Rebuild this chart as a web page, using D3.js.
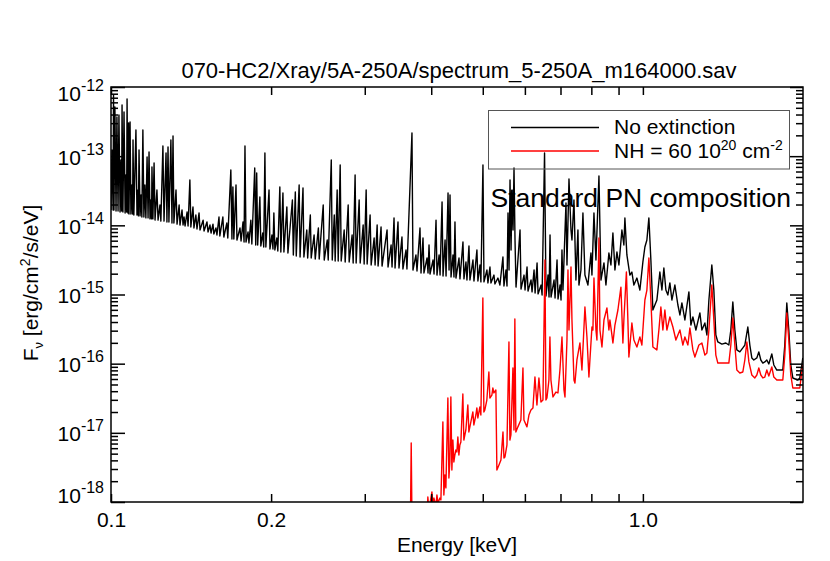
<!DOCTYPE html>
<html lang="en">
<head>
  <meta charset="UTF-8">
  <title>spectrum_5-250A_m164000</title>
  <style>
    html, body { margin: 0; padding: 0; background: #fff; }
    svg { display: block; font-family: "Liberation Sans", Arial, Helvetica, sans-serif; }
    .axis path.domain { display: none; }
    .axis line { stroke: #000; stroke-width: 1.5; }
    .axis text { font-size: 21px; fill: #000; font-family: "Liberation Sans", Arial, sans-serif; }
  </style>
  <script src="https://cdn.jsdelivr.net/npm/d3@7"></script>
</head>
<body>
<script>
  // ---------- data: [energy keV, F_nu erg/cm2/s/eV] ----------
  const noExtinction = [
    [0.1000,1.67e-14],[0.1004,1.23e-13],[0.1009,1.67e-14],[0.1011,7.66e-13],[0.1013,1.67e-14],[0.1017,5.14e-13],[0.1022,1.61e-14],[0.1026,3.68e-13],[0.1031,1.61e-14],[0.1035,3.94e-13],
    [0.1040,1.56e-14],[0.1044,8.81e-14],[0.1047,1.61e-14],[0.1049,5.49e-13],[0.1053,1.56e-14],[0.1058,4.35e-13],[0.1063,1.51e-14],[0.1067,5.34e-14],[0.1070,1.56e-14],[0.1072,6.71e-13],
    [0.1076,1.51e-14],[0.1079,3.02e-13],[0.1081,1.46e-14],[0.1086,3.12e-13],[0.1090,1.46e-14],[0.1095,3.83e-14],[0.1098,1.46e-14],[0.1100,1.71e-13],[0.1104,1.41e-14],[0.1114,2.39e-13],
    [0.1119,1.41e-14],[0.1124,3.24e-14],[0.1126,1.37e-14],[0.1129,1.23e-13],[0.1134,1.37e-14],[0.1139,2.75e-14],[0.1143,1.32e-14],[0.1148,2.39e-13],[0.1153,1.32e-14],[0.1158,3.83e-14],
    [0.1163,1.28e-14],[0.1169,9.73e-14],[0.1174,1.28e-14],[0.1179,1.15e-13],[0.1184,1.24e-14],[0.1189,2.32e-14],[0.1192,1.24e-14],[0.1194,6.97e-14],[0.1199,1.24e-14],[0.1205,7.96e-14],
    [0.1210,1.19e-14],[0.1220,3.24e-14],[0.1226,1.19e-14],[0.1236,1.97e-14],[0.1241,1.15e-14],[0.1252,1.40e-13],[0.1258,1.15e-14],[0.1269,1.11e-13],[0.1274,1.12e-14],[0.1280,1.36e-13],
    [0.1285,1.12e-14],[0.1296,1.71e-13],[0.1302,1.08e-14],[0.1308,1.96e-13],[0.1313,1.08e-14],[0.1325,3.24e-14],[0.1331,1.04e-14],[0.1343,1.97e-14],[0.1348,1.01e-14],[0.1360,1.67e-14],
    [0.1366,1.01e-14],[0.1372,1.32e-14],[0.1378,9.78e-15],[0.1390,1.56e-14],[0.1396,9.78e-15],[0.1407,4.52e-14],[0.1413,9.46e-15],[0.1426,1.84e-14],[0.1432,9.16e-15],[0.1444,1.41e-14],
    [0.1451,8.86e-15],[0.1464,1.51e-14],[0.1470,8.57e-15],[0.1490,1.19e-14],[0.1496,8.28e-15],[0.1515,1.12e-14],[0.1522,8.01e-15],[0.1535,1.01e-14],[0.1542,7.75e-15],[0.1555,1.04e-14],
    [0.1561,7.50e-15],[0.1575,9.16e-15],[0.1582,7.25e-15],[0.1596,1.32e-14],[0.1602,7.02e-15],[0.1623,1.32e-14],[0.1630,6.78e-15],[0.1651,1.08e-14],[0.1658,6.56e-15],[0.1680,6.31e-14],
    [0.1688,6.35e-15],[0.1695,3.58e-14],[0.1702,6.35e-15],[0.1718,3.83e-14],[0.1725,6.14e-15],[0.1748,9.16e-15],[0.1756,5.94e-15],[0.1771,1.12e-14],[0.1779,5.74e-15],[0.1786,1.40e-13],
    [0.1794,5.74e-15],[0.1810,8.01e-15],[0.1817,5.55e-15],[0.1832,1.19e-14],[0.1840,5.37e-15],[0.1863,6.75e-14],[0.1871,5.20e-15],[0.1879,5.71e-14],[0.1887,5.20e-15],[0.1905,2.57e-14],
    [0.1913,5.03e-15],[0.1929,7.75e-15],[0.1937,4.86e-15],[0.1947,1.11e-13],[0.1955,4.86e-15],[0.1982,3.24e-14],[0.1990,4.55e-15],[0.2007,7.25e-15],[0.2016,4.55e-15],[0.2024,1.51e-14],
    [0.2033,4.40e-15],[0.2050,6.56e-15],[0.2059,4.26e-15],[0.2077,3.58e-14],[0.2086,4.12e-15],[0.2105,2.94e-14],[0.2114,4.12e-15],[0.2141,1.84e-14],[0.2151,3.98e-15],[0.2193,2.32e-14],
    [0.2202,3.73e-15],[0.2221,3.04e-14],[0.2230,3.60e-15],[0.2258,3.83e-14],[0.2267,3.49e-15],
    [0.2296,3.47e-14],[0.2305,3.49e-15],[0.2334,8.57e-15],[0.2343,3.37e-15],[0.2370,1.41e-14],[0.2379,3.37e-15],[0.2409,7.25e-15],[0.2421,3.26e-15],[0.2454,9.16e-15],[0.2463,3.26e-15],
    [0.2506,1.97e-14],[0.2517,3.15e-15],[0.2550,6.14e-15],[0.2561,3.15e-15],[0.2595,8.81e-14],[0.2606,3.15e-15],[0.2629,1.41e-14],[0.2639,3.05e-15],[0.2662,3.24e-14],[0.2674,3.05e-15],
    [0.2697,7.45e-14],[0.2709,3.05e-15],[0.2744,8.57e-15],[0.2756,2.95e-15],[0.2792,1.97e-14],[0.2804,2.95e-15],[0.2840,7.25e-15],[0.2853,2.86e-15],[0.2877,5.34e-14],[0.2890,2.86e-15],
    [0.2928,2.32e-14],[0.2941,2.86e-15],[0.2979,1.01e-14],[0.2992,2.76e-15],[0.3018,3.24e-14],[0.3031,2.76e-15],[0.3070,1.41e-14],[0.3084,2.67e-15],[0.3124,6.56e-15],[0.3137,2.67e-15],
    [0.3165,1.01e-14],[0.3178,2.58e-15],[0.3219,9.46e-15],[0.3233,2.58e-15],[0.3304,8.57e-15],[0.3318,2.50e-15],[0.3362,5.20e-15],[0.3376,2.50e-15],[0.3405,1.28e-14],[0.3420,2.42e-15],
    [0.3464,1.12e-14],[0.3479,2.42e-15],[0.3524,6.78e-15],[0.3539,2.34e-15],[0.3586,4.40e-15],[0.3601,2.34e-15],[0.3680,2.16e-13],[0.3696,2.26e-15],[0.3744,3.73e-15],[0.3761,2.19e-15],
    [0.3810,9.16e-15],[0.3827,2.05e-15],[0.3860,6.56e-15],[0.3876,2.05e-15],[0.3928,3.37e-15],[0.3945,2.05e-15],[0.3962,5.20e-15],[0.3979,1.98e-15],[0.4031,3.15e-15],[0.4049,1.98e-15],
    [0.4084,1.19e-14],[0.4101,1.91e-15],[0.4138,3.73e-15],[0.4156,1.91e-15],[0.4192,2.17e-14],[0.4210,1.85e-15],[0.4247,6.14e-15],[0.4265,1.85e-15],[0.4302,2.94e-14],[0.4321,2.26e-15],
    [0.4339,2.75e-14],[0.4358,1.79e-15],[0.4395,3.73e-15],[0.4414,1.79e-15],[0.4433,1.12e-14],[0.4452,1.73e-15],[0.4511,3.37e-15],[0.4530,1.68e-15],[0.4589,5.74e-15],[0.4609,1.68e-15],
    [0.4649,2.95e-15],[0.4669,1.62e-15],[0.4710,5.03e-15],[0.4730,1.62e-15],[0.4792,3.15e-15],[0.4813,1.57e-15],[0.4875,4.40e-15],[0.4896,1.57e-15],[0.4939,2.67e-15],[0.4960,1.52e-15],
    [0.5004,7.45e-14],[0.5026,1.52e-15],[0.5091,2.26e-15],[0.5113,1.47e-15],[0.5158,2.50e-15],[0.5180,1.47e-15],[0.5248,1.91e-15],[0.5270,1.42e-15],[0.5339,1.73e-15],[0.5385,1.37e-15],
    [0.5456,3.49e-15],[0.5480,1.33e-15],[0.5528,2.26e-15],[0.5553,1.33e-15],[0.5577,1.51e-14],[0.5602,2.26e-15],[0.5626,4.52e-14],[0.5651,4.40e-15],[0.5675,3.24e-14],[0.5700,8.57e-15],
    [0.5724,6.75e-14],[0.5749,6.14e-15],[0.5774,1.28e-15],[0.5875,8.57e-15],[0.5900,1.20e-15],[0.5978,1.91e-15],[0.6004,1.16e-15],[0.6056,2.50e-15],[0.6082,1.12e-15],[0.6162,1.62e-15],
    [0.6189,1.09e-15],[0.6243,2.26e-15],[0.6271,1.05e-15],[0.6325,2.86e-15],[0.6352,1.02e-15],[0.6436,1.37e-15],[0.6464,9.84e-16],[0.6533,1.11e-13],[0.6575,9.51e-16],[0.6632,1.91e-15],
    [0.6661,9.20e-16],[0.6690,7.25e-15],[0.6719,9.20e-16],[0.6807,1.62e-15],[0.6837,8.91e-16],[0.6896,3.15e-15],[0.6926,8.61e-16],[0.6986,1.37e-15],[0.7016,8.33e-16],
    [0.7045,4.40e-15],[0.7075,1.16e-15],[0.7168,2.10e-14],[0.7199,2.67e-15],[0.7262,4.68e-14],[0.7325,8.57e-15],[0.7356,6.14e-15],[0.7420,2.32e-14],[0.7484,1.62e-15],[0.7549,8.57e-15],
    [0.7582,1.37e-15],[0.7648,2.26e-15],[0.7714,1.51e-14],[0.7781,1.91e-15],[0.7883,1.37e-15],[0.7986,3.98e-15],[0.8021,1.91e-15],[0.8091,1.51e-14],[0.8161,3.15e-15],[0.8268,5.17e-14],
    [0.8340,1.62e-15],[0.8449,2.86e-15],[0.8522,1.37e-15],[0.8632,3.98e-15],[0.8708,2.67e-15],[0.8783,7.75e-15],[0.8860,2.26e-15],[0.8937,4.12e-15],[0.9014,2.67e-15],[0.9132,8.57e-15],
    [0.9210,5.20e-15],[0.9251,1.28e-14],[0.9331,3.73e-15],[0.9453,1.91e-15],[0.9535,2.11e-15],[0.9618,1.37e-15],[0.9744,1.73e-15],[0.9871,1.16e-15],[1.0000,2.95e-15],[1.0087,4.86e-15],
    [1.0175,6.14e-15],[1.0263,1.28e-14],[1.0352,3.15e-15],[1.0442,5.97e-16],[1.0533,7.05e-16],[1.0625,8.33e-16],[1.0763,2.11e-15],[1.0858,1.16e-15],[1.0951,2.42e-15],[1.1047,1.16e-15],
    [1.1143,9.84e-16],[1.1240,1.47e-15],[1.1337,8.33e-16],[1.1486,1.37e-15],[1.1636,7.05e-16],[1.1738,5.06e-16],[1.1840,7.54e-16],[1.1994,4.28e-16],[1.2204,1.09e-15],[1.2310,3.62e-16],
    [1.2417,4.73e-16],[1.2580,3.07e-16],[1.2799,5.41e-16],[1.2910,3.07e-16],[1.3079,3.87e-16],[1.3193,2.60e-16],[1.3308,8.33e-16],[1.3478,2.67e-15],[1.3596,1.16e-15],[1.3714,2.60e-16],
    [1.3833,2.06e-16],[1.4075,1.92e-16],[1.4321,1.99e-16],[1.4508,1.86e-16],[1.4634,3.07e-16],[1.4761,7.80e-16],[1.4890,3.07e-16],[1.5019,1.58e-16],[1.5215,1.48e-16],[1.5414,1.69e-16],
    [1.5548,1.86e-16],[1.5751,3.39e-16],[1.5888,1.86e-16],[1.6026,1.21e-16],[1.6165,1.13e-16],[1.6376,1.21e-16],[1.6518,1.48e-16],[1.6662,1.13e-16],[1.6807,1.02e-16],[1.6953,1.06e-16],
    [1.7100,1.13e-16],[1.7249,9.90e-17],[1.7474,1.38e-16],[1.7626,9.57e-17],[1.7856,8.09e-17],[1.8326,8.09e-17],[1.8485,1.86e-16],[1.8646,7.54e-16],[1.8808,3.07e-16],[1.8971,9.57e-17],
    [1.9136,6.21e-17],[1.9555,5.81e-17],[1.9725,6.21e-17],[1.9897,9.57e-17],[1.9983,1.21e-16]
  ];

  const withNH = [
    [0.3656,5.5e-19],[0.3668,7.13e-18],[0.3680,5.5e-19],[0.3925,5.5e-19],[0.3942,1.18e-18],[0.3960,7.67e-19],[0.3994,1.14e-18],[0.4012,1.40e-18],[0.4029,9.05e-19],[0.4047,1.14e-18],
    [0.4082,8.75e-19],[0.4100,1.26e-18],[0.4118,9.7e-19],[0.4153,1.14e-18],[0.4171,1.07e-18],[0.4207,1.44e-17],[0.4225,1.26e-18],[0.4244,2.46e-18],[0.4262,1.60e-18],[0.4299,3.19e-17],
    [0.4318,2.22e-18],[0.4336,3.79e-18],[0.4355,3.30e-17],[0.4374,2.90e-18],[0.4393,7.88e-18],[0.4412,3.79e-18],[0.4431,4.78e-18],[0.4450,5.65e-18],[0.4470,5.28e-18],[0.4489,8.71e-18],
    [0.4509,4.78e-18],[0.4528,6.68e-18],[0.4548,7.37e-18],[0.4587,3.64e-17],[0.4607,7.88e-18],[0.4647,1.10e-17],[0.4687,2.52e-17],[0.4708,1.03e-17],[0.4749,1.44e-17],[0.4790,2.00e-17],
    [0.4811,1.30e-17],[0.4853,1.81e-17],[0.4874,2.29e-17],[0.4895,1.64e-17],[0.4937,2.36e-17],[0.4959,1.81e-17],[0.5002,8.91e-16],[0.5024,2.00e-17],[0.5045,2.14e-17],[0.5089,2.98e-17],
    [0.5134,7.58e-17],[0.5156,3.19e-17],[0.5201,3.52e-17],[0.5223,4.45e-17],[0.5246,3.77e-17],[0.5292,4.16e-17],[0.5315,2.90e-18],[0.5363,3.43e-18],[0.5409,4.05e-18],[0.5457,1.03e-17],
    [0.5480,4.33e-18],[0.5504,4.48e-18],[0.5552,6.68e-18],[0.5600,2.06e-16],[0.5623,7.88e-18],[0.5648,9.31e-18],[0.5697,8.65e-17],[0.5723,1.10e-17],[0.5745,4.42e-16],[0.5770,1.03e-17],
    [0.5821,1.22e-17],[0.5897,1.53e-17],[0.5950,8.65e-17],[0.5975,1.53e-17],[0.6054,1.22e-17],[0.6106,1.81e-17],[0.6159,2.14e-17],[0.6213,2.29e-17],[0.6267,6.41e-17],[0.6321,2.52e-17],
    [0.6376,6.21e-17],[0.6432,2.79e-17],[0.6488,2.98e-17],[0.6544,3.15e-15],[0.6572,2.98e-17],[0.6601,3.19e-17],[0.6658,5.81e-17],[0.6687,2.43e-16],[0.6716,5.81e-17],[0.6775,3.30e-17],
    [0.6863,3.89e-17],[0.6923,3.77e-17],[0.6983,8.09e-17],[0.7045,2.43e-16],[0.7106,4.16e-17],[0.7137,3.30e-17],[0.7199,2.20e-16],[0.7230,2.26e-15],[0.7262,3.07e-16],[0.7293,8.33e-16],
    [0.7325,2.50e-15],[0.7356,4.28e-16],[0.7420,5.81e-17],[0.7452,5.26e-17],[0.7516,1.13e-16],[0.7615,1.99e-16],[0.7681,8.09e-17],[0.7781,6.60e-16],[0.7849,2.43e-16],[0.7917,6.41e-17],
    [0.7951,1.13e-16],[0.8021,3.39e-16],[0.8055,3.07e-16],[0.8091,1.73e-15],[0.8161,3.07e-16],[0.8196,2.20e-16],[0.8268,6.56e-15],[0.8303,3.07e-16],[0.8376,1.74e-16],[0.8449,4.28e-16],
    [0.8559,6.38e-16],[0.8632,3.07e-16],[0.8670,4.28e-16],[0.8745,2.60e-16],[0.8783,1.99e-16],[0.8860,3.62e-16],[0.8975,5.97e-16],[0.9093,1.28e-15],[0.9171,1.99e-16],[0.9210,4.28e-16],
    [0.9311,2.11e-15],[0.9371,4.28e-16],[0.9412,1.25e-16],[0.9535,3.87e-16],[0.9618,2.20e-16],[0.9744,1.74e-16],[0.9871,2.43e-16],[0.9957,1.86e-16],[1.0087,8.33e-16],[1.0175,1.16e-15],
    [1.0263,3.37e-15],[1.0352,8.33e-16],[1.0442,1.74e-16],[1.0625,1.58e-16],[1.0717,3.07e-16],[1.0810,6.60e-16],[1.0904,3.07e-16],[1.0999,5.97e-16],[1.1095,3.07e-16],[1.1240,4.73e-16],
    [1.1387,3.39e-16],[1.1536,2.20e-16],[1.1738,3.07e-16],[1.1890,1.86e-16],[1.1994,2.43e-16],[1.2151,1.86e-16],[1.2257,3.28e-16],[1.2417,1.58e-16],[1.2525,1.25e-16],[1.2744,1.86e-16],
    [1.2910,1.99e-16],[1.3079,1.33e-16],[1.3193,1.43e-16],[1.3308,3.07e-16],[1.3478,1.37e-15],[1.3596,4.28e-16],[1.3714,1.33e-16],[1.3833,1.02e-16],[1.4321,1.02e-16],[1.4508,1.02e-16],
    [1.4634,1.86e-16],[1.4761,4.57e-16],[1.4890,1.86e-16],[1.5019,8.09e-17],[1.5215,7.33e-17],[1.5414,7.58e-17],[1.5548,1.13e-16],[1.5685,2.06e-16],[1.5823,1.06e-16],[1.6026,6.86e-17],
    [1.6235,6.21e-17],[1.6376,6.86e-17],[1.6518,8.65e-17],[1.6662,6.86e-17],[1.6807,6.21e-17],[1.6953,6.41e-17],[1.7100,8.09e-17],[1.7249,6.64e-17],[1.7474,8.95e-17],[1.7626,6.41e-17],
    [1.7856,5.81e-17],[1.8326,5.81e-17],[1.8485,1.33e-16],[1.8646,5.41e-16],[1.8808,2.20e-16],[1.8971,6.86e-17],[1.9136,4.45e-17],[1.9725,4.45e-17],[1.9897,7.58e-17],[1.9983,9.57e-17]
  ];

  const xTickValues = [0.1, 0.2, 0.3, 0.4, 0.5, 0.6, 0.7, 0.8, 0.9, 1.0];
  const xTickLabels = { 0.1: '0.1', 0.2: '0.2', 1.0: '1.0' };
  const yMajorTicks = [1e-18, 1e-17, 1e-16, 1e-15, 1e-14, 1e-13, 1e-12];
  const yMinorMultipliers = [2, 3, 4, 5, 6, 7, 8, 9];

  const width = 830;
  const height = 561;
  const plotLeft = 111;
  const plotRight = 803;
  const plotTop = 87;
  const plotBottom = 502;

  // scales
  const xScale = d3.scaleLog().domain([0.1, 2.0]).range([plotLeft, plotRight]);
  const yScale = d3.scaleLog().domain([1e-18, 1e-12]).range([plotBottom, plotTop]);

  const yMinorTicks = [];
  yMajorTicks.slice(0, -1).forEach((m) => yMinorMultipliers.forEach((k) => yMinorTicks.push(k * m)));

  const svg = d3.select('body').append('svg')
    .attr('width', width)
    .attr('height', height);

  svg.append('defs').append('clipPath').attr('id', 'plotClip')
    .append('rect')
    .attr('x', plotLeft).attr('y', plotTop)
    .attr('width', plotRight - plotLeft).attr('height', plotBottom - plotTop);

  // spectra
  const line = d3.line()
    .x((d) => xScale(d[0]))
    .y((d) => yScale(d[1]));

  const curves = svg.append('g').attr('clip-path', 'url(#plotClip)');
  curves.append('path')
    .datum(noExtinction)
    .attr('d', line)
    .attr('fill', 'none')
    .attr('stroke', '#000')
    .attr('stroke-width', 1.4)
    .attr('stroke-linejoin', 'round');
  curves.append('path')
    .datum(withNH)
    .attr('d', line)
    .attr('fill', 'none')
    .attr('stroke', '#ff0000')
    .attr('stroke-width', 1.4)
    .attr('stroke-linejoin', 'round');

  // axes (ticks point inwards, IDL style)
  svg.append('g')
    .attr('class', 'axis')
    .attr('transform', `translate(0,${plotBottom})`)
    .call(d3.axisBottom(xScale).tickValues(xTickValues).tickSizeInner(-8).tickSizeOuter(0).tickPadding(10)
      .tickFormat((d) => xTickLabels[d] || ''));

  svg.append('g')
    .attr('class', 'axis')
    .attr('transform', `translate(0,${plotTop})`)
    .call(d3.axisTop(xScale).tickValues(xTickValues).tickSizeInner(-8).tickSizeOuter(0).tickFormat(''));

  const leftMajor = svg.append('g')
    .attr('class', 'axis')
    .attr('transform', `translate(${plotLeft},0)`)
    .call(d3.axisLeft(yScale).tickValues(yMajorTicks).tickSizeInner(-14).tickSizeOuter(0).tickPadding(7).tickFormat(''));

  leftMajor.selectAll('.tick text').each(function (d, i) {
    const t = d3.select(this);
    const off = i === yMajorTicks.length - 1 ? 13 : (i === 0 ? 0 : 8);
    t.attr('dy', null).attr('y', off);
    t.append('tspan').text('10');
    t.append('tspan').attr('dy', -10).style('font-size', '16px').text(Math.round(Math.log10(d)));
  });

  svg.append('g')
    .attr('class', 'axis')
    .attr('transform', `translate(${plotLeft},0)`)
    .call(d3.axisLeft(yScale).tickValues(yMinorTicks).tickSizeInner(-7).tickSizeOuter(0).tickFormat(''));

  svg.append('g')
    .attr('class', 'axis')
    .attr('transform', `translate(${plotRight},0)`)
    .call(d3.axisRight(yScale).tickValues(yMajorTicks).tickSizeInner(-13).tickSizeOuter(0).tickFormat(''));

  svg.append('g')
    .attr('class', 'axis')
    .attr('transform', `translate(${plotRight},0)`)
    .call(d3.axisRight(yScale).tickValues(yMinorTicks).tickSizeInner(-7).tickSizeOuter(0).tickFormat(''));

  svg.append('rect')
    .attr('x', plotLeft).attr('y', plotTop)
    .attr('width', plotRight - plotLeft).attr('height', plotBottom - plotTop)
    .attr('fill', 'none')
    .attr('stroke', '#000')
    .attr('stroke-width', 1.5);

  // title and axis titles
  svg.append('text')
    .attr('x', 459).attr('y', 78)
    .attr('text-anchor', 'middle')
    .style('font-size', '22px')
    .text('070-HC2/Xray/5A-250A/spectrum_5-250A_m164000.sav');

  svg.append('text')
    .attr('x', 457).attr('y', 552)
    .attr('text-anchor', 'middle')
    .style('font-size', '21px')
    .text('Energy [keV]');

  const yTitle = svg.append('text')
    .attr('transform', 'translate(38,283) rotate(-90)')
    .attr('text-anchor', 'middle')
    .style('font-size', '21px');
  yTitle.append('tspan').text('F');
  yTitle.append('tspan').attr('dy', 5).style('font-size', '13px').text('\u03bd');
  yTitle.append('tspan').attr('dy', -5).text(' [erg/cm');
  yTitle.append('tspan').attr('dy', -8).style('font-size', '14px').text('2');
  yTitle.append('tspan').attr('dy', 8).text('/s/eV]');

  // legend
  const legend = svg.append('g');
  legend.append('rect')
    .attr('x', 488.5).attr('y', 110.5)
    .attr('width', 301).attr('height', 58.5)
    .attr('fill', 'none')
    .attr('stroke', '#555')
    .attr('stroke-width', 1);
  legend.append('line')
    .attr('x1', 511).attr('x2', 599).attr('y1', 127.5).attr('y2', 127.5)
    .attr('stroke', '#000').attr('stroke-width', 1.5);
  legend.append('line')
    .attr('x1', 511).attr('x2', 599).attr('y1', 151).attr('y2', 151)
    .attr('stroke', '#ff0000').attr('stroke-width', 1.5);
  legend.append('text')
    .attr('x', 614).attr('y', 134)
    .style('font-size', '21px')
    .text('No extinction');
  const nhText = legend.append('text')
    .attr('x', 614).attr('y', 157.5)
    .style('font-size', '21px');
  nhText.append('tspan').text('NH = 60 10');
  nhText.append('tspan').attr('dy', -8).style('font-size', '14px').text('20');
  nhText.append('tspan').attr('dy', 8).text(' cm');
  nhText.append('tspan').attr('dy', -8).style('font-size', '14px').text('-2');

  svg.append('text')
    .attr('x', 490.5).attr('y', 207)
    .style('font-size', '26.5px')
    .text('Standard PN composition');
</script>
</body>
</html>
